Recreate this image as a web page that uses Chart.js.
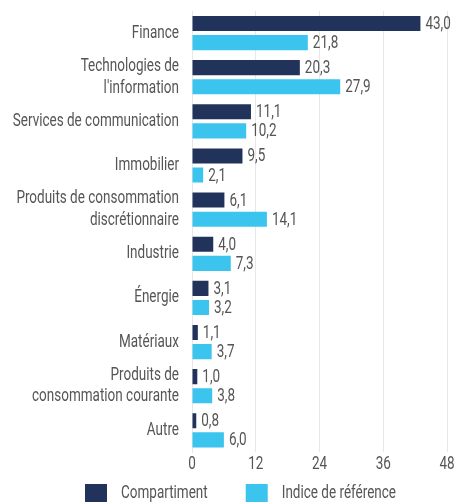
<!DOCTYPE html>
<html>
<head>
<meta charset="utf-8">
<script src="https://cdn.jsdelivr.net/npm/chart.js@4/dist/chart.umd.min.js"></script>
<style>
  html, body { margin: 0; padding: 0; background: #fff; overflow: hidden; }
  #wrap { width: 454px; height: 502px; position: relative; }
</style>
</head>
<body>
<div id="wrap"><canvas id="sector-chart"></canvas></div>
<script>
var categories = [
    'Finance',
    ['Technologies de', "l'information"],
    'Services de communication',
    'Immobilier',
    ['Produits de consommation', 'discrétionnaire'],
    'Industrie',
    'Énergie',
    'Matériaux',
    ['Produits de', 'consommation courante'],
    'Autre'
];
var seriesNames = ['Compartiment', 'Indice de référence'];
var fundValues = [43.0, 20.3, 11.1, 9.5, 6.1, 4.0, 3.1, 1.1, 1.0, 0.8];
var benchmarkValues = [21.8, 27.9, 10.2, 2.1, 14.1, 7.3, 3.2, 3.7, 3.8, 6.0];
var xTicks = [0, 12, 24, 36, 48];

var fontFamily = "Roboto, 'DejaVu Sans', sans-serif";
var fontSize = 18;
var textColor = '#555555';
var squeeze = 0.75;   // no condensed font installed, so text is narrowed by hand

const ctx = document.getElementById('sector-chart').getContext('2d');

// narrow every piece of text the chart writes
var rawFill = CanvasRenderingContext2D.prototype.fillText;
var rawMeasure = CanvasRenderingContext2D.prototype.measureText;
ctx.fillText = function(text, x, y) {
    this.save();
    this.translate(x, y);
    this.scale(squeeze, 1);
    rawFill.call(this, text, 0, 0);
    this.restore();
};
ctx.measureText = function(text) {
    var m = rawMeasure.call(this, text);
    return {
        width: m.width * squeeze,
        actualBoundingBoxAscent: m.actualBoundingBoxAscent,
        actualBoundingBoxDescent: m.actualBoundingBoxDescent,
        actualBoundingBoxLeft: m.actualBoundingBoxLeft * squeeze,
        actualBoundingBoxRight: m.actualBoundingBoxRight * squeeze
    };
};

// value next to the end of every bar
const valueLabels = {
    id: 'valueLabels',
    afterDatasetsDraw(chart) {
        const c = chart.ctx;
        c.save();
        c.font = fontSize + 'px ' + fontFamily;
        c.fillStyle = textColor;
        c.textAlign = 'left';
        c.textBaseline = 'middle';
        chart.data.datasets.forEach(function(ds, i) {
            chart.getDatasetMeta(i).data.forEach(function(bar, j) {
                c.fillText(ds.data[j].toFixed(1).replace('.', ','), bar.x + 5, bar.y + 1);
            });
        });
        c.restore();
    }
};

// legend row under the axis, squares partly cut by the bottom edge
const bottomLegend = {
    id: 'bottomLegend',
    afterDraw(chart) {
        const c = chart.ctx;
        c.save();
        c.font = fontSize + 'px ' + fontFamily;
        c.textAlign = 'left';
        c.textBaseline = 'middle';
        var x = 85;
        var top = 484;
        chart.data.datasets.forEach(function(ds) {
            c.fillStyle = ds.backgroundColor;
            c.fillRect(x, top, 22, 22);
            c.fillStyle = textColor;
            c.fillText(ds.label, x + 36, top + 9);
            x += 36 + c.measureText(ds.label).width + 38;
        });
        c.restore();
    }
};

const myChart = new Chart(ctx, {
    type: 'bar',
    data: {
        labels: categories,
        datasets: [{
            label: seriesNames[0],
            data: fundValues,
            backgroundColor: '#22335b',
            categoryPercentage: 0.866,
            barPercentage: 0.79
        }, {
            label: seriesNames[1],
            data: benchmarkValues,
            backgroundColor: '#3bc4ed',
            categoryPercentage: 0.866,
            barPercentage: 0.79
        }]
    },
    options: {
        indexAxis: 'y',
        responsive: true,
        maintainAspectRatio: false,
        animation: false,
        layout: {
            padding: { top: 11, right: 7, left: 0, bottom: 26 }
        },
        plugins: {
            legend: { display: false },
            tooltip: { enabled: false }
        },
        scales: {
            y: {
                afterFit: function(scale) {
                    scale.width = 192;
                    scale.paddingTop = 0;
                    scale.paddingBottom = 0;
                },
                grid: { display: false, drawTicks: false },
                border: { display: true, color: '#e8e8e8' },
                ticks: {
                    autoSkip: false,
                    padding: 13,
                    color: textColor,
                    font: { family: fontFamily, size: fontSize, lineHeight: 1.2 }
                }
            },
            x: {
                min: 0,
                max: 48,
                afterBuildTicks: function(scale) {
                    scale.ticks = xTicks.map(function(v) { return { value: v }; });
                },
                afterFit: function(scale) {
                    scale.paddingLeft = 0;
                    scale.paddingRight = 0;
                },
                grid: { color: '#e8e8e8', drawTicks: false },
                border: { display: false },
                ticks: {
                    padding: 1,
                    color: textColor,
                    font: { family: fontFamily, size: fontSize }
                }
            }
        }
    },
    plugins: [valueLabels, bottomLegend]
});
</script>
</body>
</html>
